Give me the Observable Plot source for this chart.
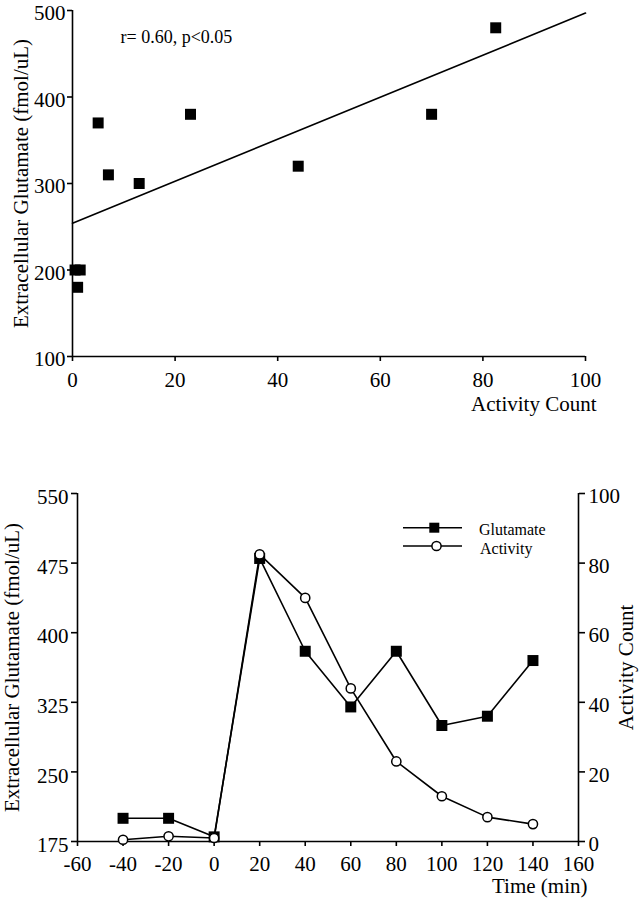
<!DOCTYPE html>
<html><head><meta charset="utf-8">
<script src="https://cdn.jsdelivr.net/npm/d3@7"></script>
<script src="https://cdn.jsdelivr.net/npm/@observablehq/plot@0.6"></script>
<style>
body{margin:0;background:#fff;}
#wrap{position:relative;width:639px;height:900px;font-family:"Liberation Serif","Times New Roman",serif;}
#wrap svg, #wrap svg text{font-family:"Liberation Serif","Times New Roman",serif !important;}
#top{position:absolute;left:0;top:0;}
#bottom{position:absolute;left:0;top:420px;}
#legend{position:absolute;left:400px;top:515px;}
</style></head><body>
<div id="wrap"><div id="top"></div><div id="bottom"></div><div id="legend"></div></div>
<script>
// ---- data ----
const times = [-40, -20, 0, 20, 40, 60, 80, 100, 120, 140];
const glutamate = [200, 200, 180, 480, 380, 320, 380, 300, 310, 370];
const activity = [0.5, 1.5, 1, 82.5, 70, 44, 23, 13, 7, 5];
const regressionX = [0, 100];
const regressionY = [254, 497];
const statsLabel = "r= 0.60, p<0.05";
const topXTicks = [0, 20, 40, 60, 80, 100];
const topYTicks = [100, 200, 300, 400, 500];
const timeTicks = [-60, -40, -20, 0, 20, 40, 60, 80, 100, 120, 140, 160];
const glutTicks = [175, 250, 325, 400, 475, 550];
const activityTicks = [0, 20, 40, 60, 80, 100];
const legendLabels = ["Glutamate", "Activity"];
const legendSymbols = ["square", "circle"];
const yLabel = "Extracellular Glutamate (fmol/uL)";
const xLabelTop = "Activity Count";
const xLabelBottom = "Time (min)";
const yLabelRight = "Activity Count";

const FONT = "Liberation Serif";
const style = {fontFamily: FONT, fontSize: "21px", color: "black", background: "white", overflow: "visible"};
const SW = 1.6;
const tickText = {fontFamily: FONT, fontSize: 21, strokeWidth: SW};

// ---- top chart ----
const topData = activity.map((a, i) => ({activity: a, glutamate: glutamate[i]}));
const reg = regressionX.map((x, i) => ({x, y: regressionY[i]}));

const topPlot = Plot.plot({
  width: 639, height: 420,
  marginTop: 10, marginBottom: 64, marginLeft: 72, marginRight: 54,
  style,
  x: {domain: [0, 100]},
  y: {domain: [100, 500]},
  marks: [
    Plot.axisX({ticks: topXTicks, tickSize: 5, tickPadding: 11, tickFormat: d => `${d}`, label: null, ...tickText}),
    Plot.axisY({ticks: topYTicks, tickSize: 5, fill: "none", label: null, ...tickText}),
    Plot.axisY({ticks: topYTicks, tickSize: 0, tickPadding: 7, tickFormat: d => `${d}`, label: null, dy: 3, ...tickText}),
    Plot.ruleX([0], {strokeWidth: SW}),
    Plot.ruleY([100], {strokeWidth: SW}),
    Plot.line(reg, {x: "x", y: "y", stroke: "black", strokeWidth: SW}),
    Plot.dot(topData, {x: "activity", y: "glutamate", symbol: "square", fill: "black", r: 6.2}),
    Plot.text([statsLabel], {frameAnchor: "top-left", dx: 48, dy: 27, textAnchor: "start", lineAnchor: "middle", fontSize: 18, fontFamily: FONT}),
    Plot.text([yLabel], {frameAnchor: "left", rotate: -90, dx: -51.5, textAnchor: "middle", lineAnchor: "middle", fontSize: 21, fontFamily: FONT}),
    Plot.text([xLabelTop], {frameAnchor: "bottom-right", dx: 11, dy: 48, textAnchor: "end", lineAnchor: "middle", fontSize: 21, fontFamily: FONT})
  ]
});
document.getElementById("top").appendChild(topPlot);

// ---- bottom chart ----
const series = times.map((t, i) => ({time: t, glutamate: glutamate[i], activity: activity[i]}));
const gMin = glutTicks[0], gMax = glutTicks[glutTicks.length - 1];
const aMax = activityTicks[activityTicks.length - 1];
const actToGlu = a => gMin + a * (gMax - gMin) / aMax;
const gluToAct = v => Math.round((v - gMin) * aMax / (gMax - gMin));
const rightTicks = activityTicks.map(actToGlu);

const bottomPlot = Plot.plot({
  width: 639, height: 480,
  marginTop: 73, marginBottom: 59, marginLeft: 77, marginRight: 61,
  style,
  x: {domain: [-60, 160]},
  y: {domain: [gMin, gMax]},
  marks: [
    Plot.axisX({ticks: timeTicks, tickSize: 5, tickPadding: 10, tickFormat: d => `${d}`, label: null, ...tickText}),
    Plot.axisY({anchor: "left", ticks: glutTicks, tickSize: 6, fill: "none", label: null, ...tickText}),
    Plot.axisY({anchor: "left", ticks: glutTicks, tickSize: 0, tickPadding: 9, tickFormat: d => `${d}`, label: null, dy: 4, ...tickText}),
    Plot.axisY({anchor: "right", ticks: rightTicks, tickSize: 6, fill: "none", label: null, ...tickText}),
    Plot.axisY({anchor: "right", ticks: rightTicks, tickSize: 0, tickPadding: 10, tickFormat: v => `${gluToAct(v)}`, label: null, dy: 3, ...tickText}),
    Plot.ruleX([-60], {strokeWidth: SW}),
    Plot.ruleX([160], {strokeWidth: SW}),
    Plot.ruleY([gMin], {strokeWidth: SW}),
    Plot.line(series, {x: "time", y: "glutamate", stroke: "black", strokeWidth: SW}),
    Plot.line(series, {x: "time", y: d => actToGlu(d.activity), stroke: "black", strokeWidth: SW}),
    Plot.dot(series, {x: "time", y: "glutamate", symbol: "square", fill: "black", r: 6.2}),
    Plot.dot(series, {x: "time", y: d => actToGlu(d.activity), fill: "white", stroke: "black", strokeWidth: 1.5, r: 4.6}),
    Plot.text([yLabel], {frameAnchor: "left", rotate: -90, dx: -65, textAnchor: "middle", lineAnchor: "middle", fontSize: 21, fontFamily: FONT}),
    Plot.text([yLabelRight], {frameAnchor: "right", rotate: -90, dx: 47.5, textAnchor: "middle", lineAnchor: "middle", fontSize: 21, fontFamily: FONT}),
    Plot.text([xLabelBottom], {frameAnchor: "bottom-right", dx: 9, dy: 45, textAnchor: "end", lineAnchor: "middle", fontSize: 21, fontFamily: FONT})
  ]
});
document.getElementById("bottom").appendChild(bottomPlot);

// ---- legend ----
const leg = d3.select("#legend").append("svg")
  .attr("width", 170).attr("height", 45)
  .style("font-family", FONT).style("overflow", "visible");
legendLabels.forEach((lab, i) => {
  const y = 12.7 + i * 18.3;
  const g = leg.append("g");
  g.append("line").attr("x1", 3).attr("x2", 62).attr("y1", y).attr("y2", y)
    .attr("stroke", "black").attr("stroke-width", SW);
  if (legendSymbols[i] === "square") {
    g.append("rect").attr("x", 34.3 - 5).attr("y", y - 5).attr("width", 10).attr("height", 10).attr("fill", "black");
  } else {
    g.append("circle").attr("cx", 36.5).attr("cy", y).attr("r", 4.6)
      .attr("fill", "white").attr("stroke", "black").attr("stroke-width", 1.5);
  }
  g.append("text").attr("x", 79 + i).attr("y", y + 2.5).attr("dy", "0.32em")
    .attr("font-size", 16).attr("font-family", FONT).attr("fill", "black").text(lab);
});
</script>
</body></html>
